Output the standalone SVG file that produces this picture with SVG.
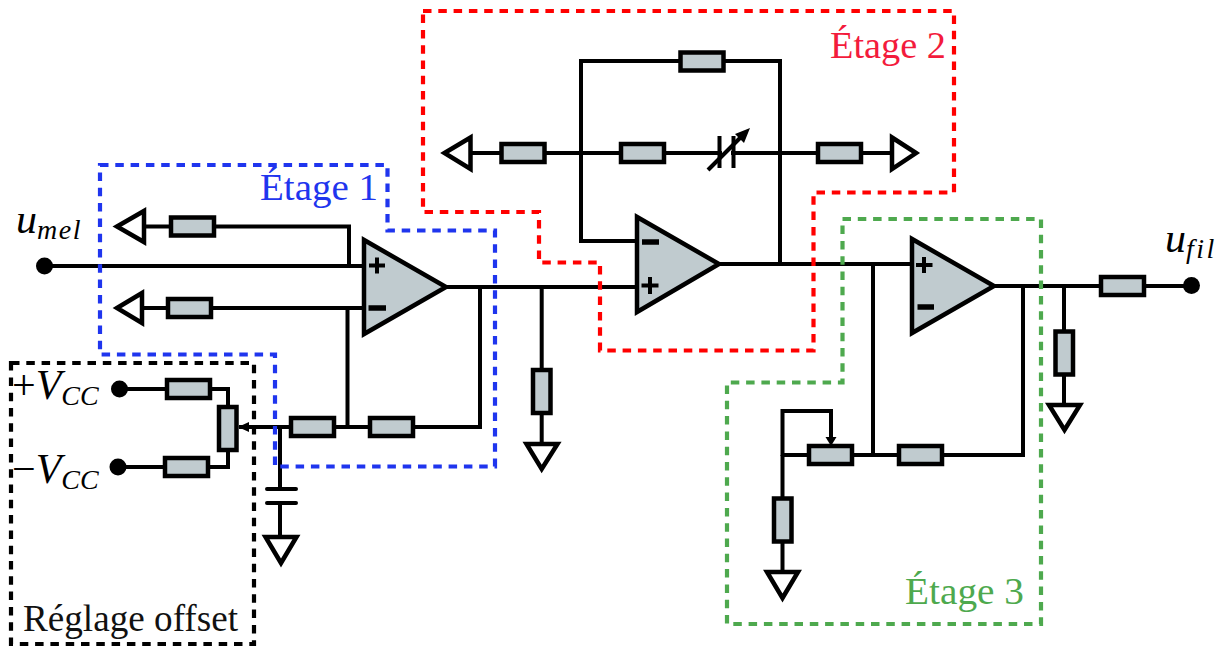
<svg xmlns="http://www.w3.org/2000/svg" width="1227" height="648" viewBox="0 0 1227 648">
<style>
.w{fill:none;stroke:#000;stroke-width:4;stroke-linejoin:miter}
.r{fill:#c0cbcf;stroke:#000;stroke-width:4.500}
.o{fill:#c0cbcf;stroke:#000;stroke-width:4.500;stroke-linejoin:miter}
.g{fill:#fff;stroke:#000;stroke-width:4.500;stroke-linejoin:miter}
.s{fill:none;stroke:#000;stroke-width:4}
.d{fill:none;stroke-width:4.200;stroke-dasharray:8.500 6.800}
.t{font-family:"Liberation Serif",serif;font-size:38px}
.m{font-family:"Liberation Serif",serif;font-style:italic;font-size:42px}
.sub{font-size:28px}
.dot{fill:#000}
</style>
<defs>
<marker id="ah" markerWidth="11" markerHeight="10" refX="10" refY="5" orient="auto" markerUnits="userSpaceOnUse"><path d="M0 0L11 5L0 10z" fill="#000"/></marker>
</defs>

<g id="connectors">
<path class="w" d="M44 266H364"/>
<path class="w" d="M130 226.500H349V266"/>
<path class="w" d="M130 308H364"/>
<path class="w" d="M347.500 308V427"/>
<path class="w" d="M446 287H637"/>
<path class="w" d="M480 287V427H290"/>
<path class="w" d="M541.700 287V443"/>
<path class="w" d="M121 389H228V406"/>
<path class="w" d="M120 467H228V451"/>
<path class="w" d="M290 427H239" marker-end="url(#ah)"/>
<path class="w" d="M280 427V489"/>
<path class="w" d="M280 503V537"/>
<path class="w" d="M637 241H581V61H780V264"/>
<path class="w" d="M471 153H892"/>
<path class="w" d="M581 153V241"/>
<path class="w" d="M719 264H912"/>
<path class="w" d="M873 264V455"/>
<path class="w" d="M994 286H1192"/>
<path class="w" d="M1023 286V455H783"/>
<path class="w" d="M1064 286V405"/>
<path class="w" d="M782.500 455V573"/>
<path class="w" d="M782.500 456V411H831V440"/>
<path d="M825.500 437H836.500L831 446z" fill="#000"/>
</g>

<g id="box-etage-1"><path class="d" stroke="#1f35ee" d="M100 165H387.500V230.500H495V466.500H275V354.500H100Z"/><text class="t" x="260" y="200" fill="#1f35ee" textLength="118" lengthAdjust="spacingAndGlyphs">Étage 1</text></g>
<g id="box-etage-2"><path class="d" stroke="#ff0000" d="M423 11H954V192.500H813.500V350.500H600V262.500H539V212H423Z"/><text class="t" x="830" y="58" fill="#f31b3c" textLength="116" lengthAdjust="spacingAndGlyphs">Étage 2</text></g>
<g id="box-etage-3"><path class="d" stroke="#4ea94e" d="M842.500 219H1041V624H727V382.500H842.500Z"/><text class="t" x="905" y="604" fill="#4ea94e" textLength="119" lengthAdjust="spacingAndGlyphs">Étage 3</text></g>
<g id="box-offset"><path class="d" stroke="#000" d="M11 363H254V644H11Z"/><text class="t" x="23" y="631" fill="#111" textLength="215" lengthAdjust="spacingAndGlyphs">Réglage offset</text></g>

<g id="in-umel"><circle class="dot" cx="44.500" cy="266" r="8.500"/><text class="m" x="16" y="233">u<tspan class="sub" dy="6" letter-spacing="1.500">mel</tspan></text></g>
<g id="out-ufil"><circle class="dot" cx="1191.500" cy="285.500" r="8.500"/><text class="m" x="1165" y="252">u<tspan class="sub" dy="6" letter-spacing="2.500">fil</tspan></text></g>
<g id="in-vcc-plus"><circle class="dot" cx="119.500" cy="389" r="8.500"/><text class="m" x="12" y="399"><tspan font-style="normal">+</tspan>V<tspan class="sub" dy="6">CC</tspan></text></g>
<g id="in-vcc-minus"><circle class="dot" cx="118" cy="467" r="8.500"/><text class="m" x="12" y="483"><tspan font-style="normal">−</tspan>V<tspan class="sub" dy="6">CC</tspan></text></g>

<g id="opamp-1"><path class="o" d="M364 240V334L446 287Z"/><path class="s" d="M369 265.500H385M377 257.500V273.500"/><path class="s" style="stroke-width:5.500" d="M368.500 308H386"/></g>
<g id="opamp-2"><path class="o" d="M637 217V312L719 264Z"/><path class="s" style="stroke-width:5.500" d="M642 242H659"/><path class="s" d="M641.500 285.500H658.500M650 277V294"/></g>
<g id="opamp-3"><path class="o" d="M912 239V333L994 286Z"/><path class="s" d="M916 265H932.500M924 257V273"/><path class="s" style="stroke-width:5.500" d="M917.500 307H934"/></g>

<g id="r1"><rect class="r" x="171" y="217.500" width="43" height="18"/></g>
<g id="r2"><rect class="r" x="168" y="299" width="43" height="18"/></g>
<g id="r3"><rect class="r" x="167" y="380" width="43" height="18"/></g>
<g id="r4"><rect class="r" x="165" y="458" width="43" height="18"/></g>
<g id="pot-offset"><rect class="r" x="219" y="407" width="17.500" height="43"/></g>
<g id="r5"><rect class="r" x="291" y="418" width="43" height="18"/></g>
<g id="r6"><rect class="r" x="370" y="418" width="43" height="18"/></g>
<g id="r7"><rect class="r" x="533" y="370" width="17.500" height="43"/></g>
<g id="r8"><rect class="r" x="680.500" y="52.500" width="43" height="18"/></g>
<g id="r9"><rect class="r" x="501.500" y="144" width="43" height="18"/></g>
<g id="r10"><rect class="r" x="621" y="144" width="43" height="18"/></g>
<g id="r11"><rect class="r" x="818" y="144" width="43" height="18"/></g>
<g id="r12"><rect class="r" x="1101" y="277" width="43" height="18"/></g>
<g id="r13"><rect class="r" x="1055.500" y="331.500" width="17.500" height="43"/></g>
<g id="pot-gain"><rect class="r" x="809" y="446" width="43" height="18"/></g>
<g id="r14"><rect class="r" x="899" y="446" width="43" height="18"/></g>
<g id="r15"><rect class="r" x="774" y="498.500" width="17.500" height="43"/></g>

<g id="cap-var"><rect x="722" y="150" width="9" height="6" fill="#fff"/><path class="s" d="M719.500 136V168M733.500 136V168"/><path class="s" d="M708 170L744 134"/><path d="M750 128L735 134L744 143Z" fill="#000"/></g>
<g id="cap-offset"><path class="s" stroke-linecap="round" d="M267 489H296M267 503H296"/></g>

<g id="gnd-l1"><path class="g" d="M117 226.500L144 211V242Z"/></g>
<g id="gnd-l2"><path class="g" d="M117 308L142 293V323Z"/></g>
<g id="gnd-offset"><path class="g" d="M265.500 537H296.500L281 563Z"/></g>
<g id="gnd-r7"><path class="g" d="M526.500 444H557.500L541.700 469Z"/></g>
<g id="gnd-left"><path class="g" d="M444.500 153L470.500 137.500V169Z"/></g>
<g id="gnd-right"><path class="g" d="M916 153L892 137.500V169Z"/></g>
<g id="gnd-r13"><path class="g" d="M1049 405H1080L1064.500 430Z"/></g>
<g id="gnd-r15"><path class="g" d="M767 572H798L782.500 598Z"/></g>
</svg>
